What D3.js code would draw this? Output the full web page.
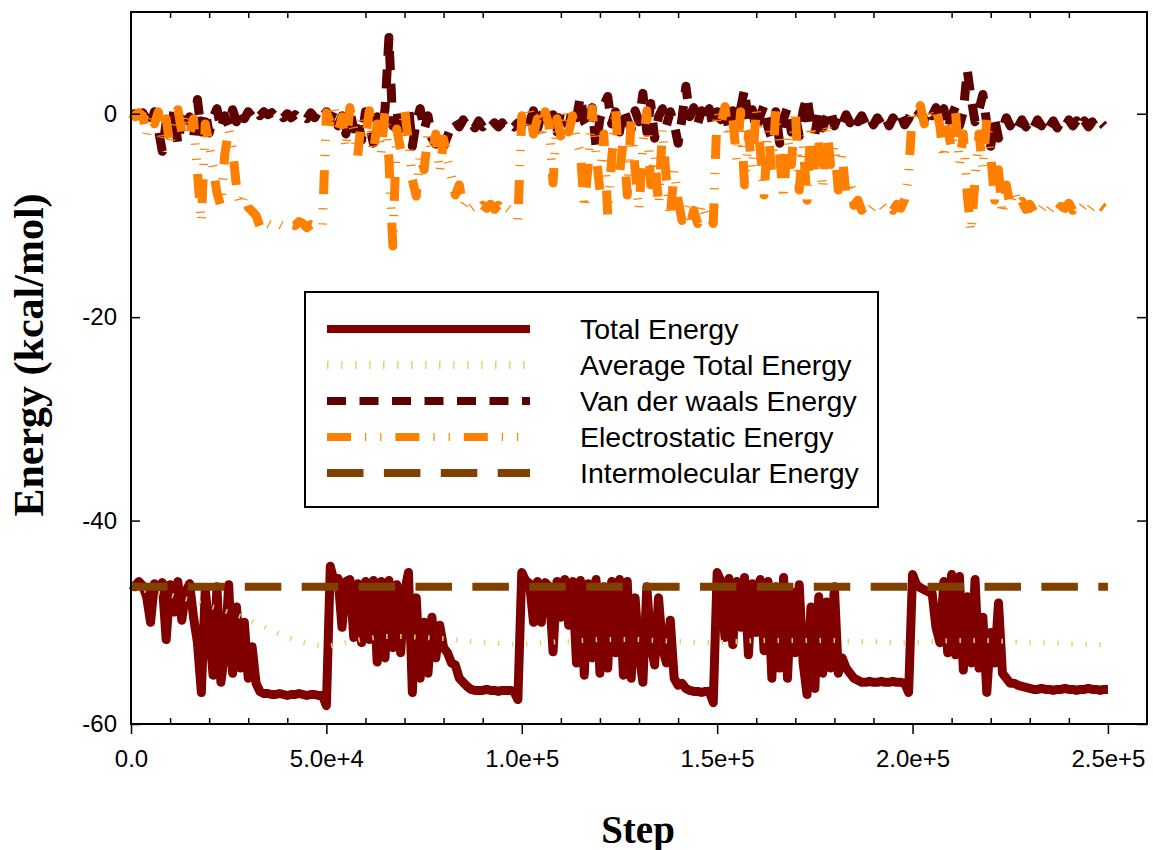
<!DOCTYPE html>
<html>
<head>
<meta charset="utf-8">
<script src="https://cdn.jsdelivr.net/npm/d3@7"></script>
<style>
  body { margin: 0; background: #ffffff; }
  text { font-family: "Liberation Sans", Arial, sans-serif; }
</style>
</head>
<body>
<div id="chart"></div>
<script>
// Sampling interval of the energy traces (steps)
const STEP = 1000;
const AVG_STEP = 5000;

// Total energy, one value per 1000 steps (0 .. 250000)
const totalEnergy = [
  -46.3, -46.5, -46.0, -46.4, -47.5, -50.0, -46.2, -46.8, -46.1, -51.7,
  -46.3, -49.0, -46.0, -49.8, -47.0, -46.2, -49.5, -52.0, -56.9, -46.8,
  -50.5, -55.2, -46.5, -55.9, -53.0, -46.3, -55.0, -48.5, -54.5, -50.0,
  -55.5, -52.4, -56.0, -56.8, -57.0, -57.0, -57.1, -57.1, -57.0, -57.1,
  -57.2, -57.1, -57.1, -57.0, -57.1, -57.2, -57.1, -57.1, -57.2, -57.2,
  -58.2, -44.5, -46.0, -45.7, -50.5, -46.0, -45.8, -51.5, -46.2, -52.0,
  -46.0, -51.7, -45.9, -53.9, -46.0, -53.5, -45.9, -52.5, -46.3, -53.0,
  -47.0, -45.1, -56.9, -47.6, -55.5, -50.0, -55.0, -49.5, -53.5, -50.3,
  -52.5, -53.0, -54.0, -54.2, -55.5, -55.9, -56.3, -56.6, -56.7, -56.7,
  -56.7, -56.6, -56.7, -56.7, -56.8, -56.7, -56.7, -56.7, -56.8, -57.6,
  -45.1, -45.9, -46.2, -50.0, -46.0, -50.0, -46.1, -46.5, -52.9, -46.0,
  -49.5, -45.8, -50.3, -46.0, -54.0, -45.9, -55.2, -46.2, -53.5, -45.8,
  -55.0, -46.5, -54.5, -46.0, -53.0, -45.8, -55.2, -46.0, -55.5, -47.6,
  -53.0, -55.9, -46.5, -52.0, -54.2, -47.6, -52.5, -54.0, -49.8, -55.5,
  -56.2, -56.0, -56.5, -56.7, -56.8, -56.8, -56.9, -56.8, -56.8, -57.9,
  -45.1, -46.0, -51.5, -45.7, -52.2, -46.0, -50.5, -45.6, -53.2, -46.2,
  -51.0, -45.8, -52.8, -46.0, -55.5, -46.5, -54.5, -45.6, -55.5, -47.0,
  -53.0, -46.3, -54.0, -57.1, -48.5, -56.5, -47.5, -55.0, -48.0, -54.5,
  -46.5, -55.0, -53.5, -54.5, -55.0, -55.5, -55.7, -55.9, -55.9, -55.8,
  -55.9, -55.9, -55.8, -55.9, -55.9, -55.8, -55.9, -55.9, -56.0, -56.9,
  -45.3, -46.3, -46.6, -46.8, -47.0, -47.1, -50.5, -52.0, -46.0, -53.0,
  -45.3, -53.2, -45.5, -54.7, -47.5, -54.0, -45.8, -54.5, -49.5, -56.9,
  -51.0, -54.0, -48.1, -55.0, -55.5, -56.0, -56.0, -56.2, -56.3, -56.4,
  -56.5, -56.6, -56.6, -56.5, -56.6, -56.6, -56.7, -56.6, -56.6, -56.5,
  -56.6, -56.6, -56.7, -56.6, -56.6, -56.5, -56.6, -56.6, -56.7, -56.6,
  -56.6
];

// Running average of the total energy, one value per 5000 steps
const avgEnergy = [
  -46.5, -47.0, -47.3, -47.8, -48.4, -49.0, -49.7, -50.6, -51.5, -52.1,
  -52.4, -52.0, -51.6, -51.4, -51.4, -51.5, -51.6, -51.8, -52.0, -52.1,
  -52.2, -52.0, -51.9, -51.8, -51.7, -51.7, -51.7, -51.8, -51.9, -52.0,
  -52.0, -51.9, -51.8, -51.8, -51.8, -51.8, -51.8, -51.9, -51.9, -52.0,
  -52.0, -51.9, -51.8, -51.8, -51.8, -51.9, -52.0, -52.0, -52.1, -52.2,
  -52.2
];

// Van der Waals energy, one value per 1000 steps (0 .. 249000)
const vdwEnergy = [
  -0.1, 0.0, -0.2, 0.1, -0.5, -1.2, 0.2, -1.5, -3.7, -0.8,
  -2.0, 0.3, -3.0, -0.5, -1.5, -0.3, -2.5, 1.4, -1.8, 0.2,
  -1.9, -0.4, 0.5, -1.5, -0.2, -1.2, 0.4, -0.8, 0.3, -0.5,
  0.2, -0.3, 0.3, -0.2, 0.2, -0.1, 0.1, -0.3, 0.1, -0.4,
  0.0, -0.4, -0.1, -0.5, -0.2, -0.5, 0.1, -0.4, 0.3, -0.3,
  0.2, -0.5, 0.4, -1.2, -0.2, -2.0, 0.3, -1.5, -0.4, -2.6,
  0.2, -1.0, -2.9, -0.3, -1.8, 0.4, 7.5, -1.2, 0.5, -2.5,
  -0.6, 0.7, -3.2, -0.8, 0.5, -1.6, -0.2, -2.4, -3.0, -1.8,
  -3.2, -2.2, -1.2, -0.7, -1.3, -0.6, -1.2, -0.8, -1.4, -0.7,
  -1.3, -0.8, -1.3, -0.9, -1.3, -0.9, -1.4, -1.0, -1.3, -0.9,
  -1.2, 0.2, -0.8, 0.3, -1.5, -0.2, 0.4, -1.0, -0.1, -1.8,
  0.3, -0.6, -1.2, 0.5, -0.4, 1.7, -0.8, -1.5, 0.6, -3.2,
  -0.5, 0.8, 1.7, -1.0, 0.2, -1.8, 0.5, -0.6, -1.5, 0.3,
  -0.8, 2.0, -1.8, 1.0, -2.4, -0.3, 0.5, -1.2, 0.2, -1.0,
  -2.9, -0.5, 2.7, -0.3, 0.6, -1.0, 0.3, -0.8, 0.5, -1.4,
  0.2, -0.6, 0.7, -1.5, 0.3, -0.8, 0.5, 2.4, -1.0, 0.4,
  -1.6, -0.2, 0.8, -1.3, -2.5, 0.2, -2.9, -0.5, 0.6, -1.8,
  -0.2, -2.2, 0.3, 1.7, -1.0, -2.0, 0.2, -1.4, -0.4, 0.4,
  -1.2, -0.2, -1.0, -0.1, -0.9, 0.0, -0.8, -0.2, -1.0, -0.3,
  -1.1, -0.4, -1.0, -0.3, -1.2, -0.4, -1.0, -0.2, -1.1, -0.5,
  0.3, -0.3, 0.2, -0.6, 0.4, -0.2, 0.6, -0.9, 0.5, -1.5,
  -0.2, 0.7, -1.2, 0.2, 4.3, 1.5, -0.8, 0.4, 1.9, -1.0,
  -3.2, -0.5, -2.4, -1.5, -0.4, -1.2, -0.5, -1.3, -0.6, -1.3,
  -0.7, -1.4, -0.6, -1.2, -0.5, -1.3, -0.7, -1.4, -0.8, -1.3,
  -0.6, -1.2, -0.7, -1.4, -0.7, -1.3, -0.8, -1.4, -0.8, -1.2
];

// Electrostatic energy, one value per 1000 steps (0 .. 249000)
const elecEnergy = [
  0.0, -0.3, 0.1, -0.2, -2.2, 0.0, -1.0, 0.2, -3.0, -0.5,
  -3.2, -0.2, 0.4, -1.8, 0.1, -2.0, -0.5, -5.8, -10.7, -1.0,
  -3.0, -5.2, -7.8, -9.1, -4.0, -1.5, -3.5, -7.2, -9.1, -8.0,
  -9.2, -9.6, -10.0, -11.1, -10.5, -10.8, -11.0, -10.6, -10.9, -11.1,
  -10.7, -10.9, -11.0, -10.6, -10.8, -11.2, -10.9, -11.0, -11.3, -11.0,
  0.1, -0.8, 0.5, -2.0, -0.3, -3.5, 0.6, -1.5, -4.2, -0.5,
  -2.5, 0.3, -3.8, -1.0, -4.0, 0.2, -4.5, -13.0, -1.5, -3.5,
  0.5, -2.8, -6.5, -8.1, -4.0, -5.5, -2.0, -3.8, -2.0, -5.8,
  -2.5, -4.5, -6.2, -8.0, -7.0, -9.1, -8.5, -9.3, -9.0, -9.4,
  -9.0, -9.3, -8.9, -9.4, -9.0, -9.6, -9.2, -9.5, -10.0, -10.4,
  -0.2, -1.5, 0.3, -2.0, -0.5, -2.6, 0.2, -1.2, -6.8, -0.5,
  -2.2, 0.4, -1.8, -0.2, -2.5, -3.8, -9.4, -5.0, 0.5, -4.0,
  -7.5, -2.0, -10.0, -4.5, 0.6, -6.0, -2.5, -8.0, -0.5, -5.5,
  -9.5, -3.0, 0.3, -7.0, -4.0, -9.0, -1.5, -6.5, -10.2, -5.5,
  -8.5, -10.5, -9.0, -11.1, -9.5, -10.8, -8.8, -10.0, -9.8, -10.8,
  0.4, -1.0, 0.7, -2.5, -0.5, -4.5, 0.2, -7.0, -2.0, -5.5,
  0.5, -3.5, -8.0, -1.5, -6.0, 0.3, -4.2, -8.5, -2.0, -5.0,
  0.4, -7.5, -3.0, -8.5, -1.0, -6.0, -2.5, -7.5, -0.8, -5.0,
  -3.0, -7.5, -4.0, -8.1, -6.5, -9.0, -8.5, -9.5, -9.0, -9.6,
  -9.1, -9.3, -8.9, -9.4, -9.0, -9.5, -8.9, -9.3, -8.4, -6.0,
  0.5, -0.5, 0.8, -1.0, 0.3, -0.8, 0.6, -1.2, -4.5, -1.5,
  -3.5, 0.2, -5.0, -2.0, -8.0, -11.7, -6.5, -2.0, -5.5, -0.5,
  -4.0, -8.5, -5.5, -10.0, -7.0, -9.1, -7.5, -9.0, -8.6, -9.4,
  -8.9, -9.6, -9.0, -9.4, -8.8, -9.5, -9.0, -9.6, -9.1, -9.3,
  -8.8, -9.5, -9.0, -9.4, -8.9, -9.6, -9.1, -9.4, -9.0, -9.3
];

// Intermolecular energy (constant)
const interSteps = [0, 250000];
const interEnergy = [-46.5, -46.5];

// Axes
const xMajorTicks = [0, 50000, 100000, 150000, 200000, 250000];
const xTickLabels = ["0.0", "5.0e+4", "1.0e+5", "1.5e+5", "2.0e+5", "2.5e+5"];
const xMinorTicks = [10000, 20000, 30000, 40000, 60000, 70000, 80000, 90000,
  110000, 120000, 130000, 140000, 160000, 170000, 180000, 190000,
  210000, 220000, 230000, 240000];
const yTicks = [0, -20, -40, -60];
const yTickLabels = ["0", "-20", "-40", "-60"];

const legendLabels = ["Total Energy", "Average Total Energy", "Van der waals Energy",
  "Electrostatic Energy", "Intermolecular Energy"];

const width = 1153, height = 850;
const plot = { left: 131, right: 1147, top: 12, bottom: 724 };

const svg = d3.select("#chart").append("svg")
    .attr("width", width)
    .attr("height", height);

const x = d3.scaleLinear().domain([0, 260000]).range([plot.left, plot.right]);
const y = d3.scaleLinear().domain([-60, 10]).range([plot.bottom, plot.top]);

// Series styles
const styles = {
    total: { color: "#800000", width: 9, dash: null },
    avg:   { color: "#d8d870", width: 5, dash: "1.5,12.5" },
    vdw:   { color: "#5c0000", width: 9, dash: "19,13.5" },
    elec:  { color: "#ff8000", width: 9, dash: "24,14,1.2,14,1.2,14" },
    inter: { color: "#804000", width: 8, dash: "36.5,20.4" }
};

function drawSeries(values, xOf, st) {
    const line = d3.line()
        .x((d, i) => x(xOf(i)))
        .y(d => y(d));
    svg.append("path")
        .datum(values)
        .attr("d", line)
        .attr("fill", "none")
        .attr("stroke", st.color)
        .attr("stroke-width", st.width)
        .attr("stroke-linejoin", "round")
        .attr("stroke-dasharray", st.dash);
}

drawSeries(totalEnergy, i => i * STEP, styles.total);
drawSeries(avgEnergy, i => i * AVG_STEP, styles.avg);
drawSeries(vdwEnergy, i => i * STEP, styles.vdw);
drawSeries(elecEnergy, i => i * STEP, styles.elec);
drawSeries(interEnergy, i => interSteps[i], styles.inter);

// Frame
svg.append("rect")
    .attr("x", plot.left).attr("y", plot.top)
    .attr("width", plot.right - plot.left).attr("height", plot.bottom - plot.top)
    .attr("fill", "none").attr("stroke", "#000").attr("stroke-width", 2);

function styleAxis(g) {
    g.select(".domain").remove();
    g.selectAll("line").attr("stroke", "#000").attr("stroke-width", 1.5);
    g.selectAll("text").attr("fill", "#000")
        .style("font-family", '"Liberation Sans", Arial, sans-serif')
        .style("font-size", "24px");
}

// Left axis with inward ticks
svg.append("g")
    .attr("transform", `translate(${plot.left},0)`)
    .call(d3.axisLeft(y).tickValues(yTicks).tickSize(-9).tickPadding(14)
        .tickFormat((d, i) => yTickLabels[i]))
    .call(styleAxis);

// Right axis ticks
svg.append("g")
    .attr("transform", `translate(${plot.right},0)`)
    .call(d3.axisRight(y).tickValues(yTicks).tickSize(-10).tickFormat(""))
    .call(styleAxis);

// Bottom major ticks (outward) with labels
svg.append("g")
    .attr("transform", `translate(0,${plot.bottom})`)
    .call(d3.axisBottom(x).tickValues(xMajorTicks).tickSize(10).tickPadding(16)
        .tickFormat((d, i) => xTickLabels[i]))
    .call(styleAxis);

// Bottom minor ticks (inward)
svg.append("g")
    .attr("transform", `translate(0,${plot.bottom})`)
    .call(d3.axisBottom(x).tickValues(xMinorTicks).tickSize(-6).tickFormat(""))
    .call(styleAxis);

// Top minor ticks (inward)
svg.append("g")
    .attr("transform", `translate(0,${plot.top})`)
    .call(d3.axisTop(x).tickValues(xMinorTicks).tickSize(-6).tickFormat(""))
    .call(styleAxis);

// Axis titles
svg.append("text")
    .attr("transform", "translate(29,355) rotate(-90)")
    .attr("text-anchor", "middle")
    .attr("dominant-baseline", "central")
    .style("font-family", '"Liberation Serif", "Times New Roman", serif')
    .style("font-weight", "bold")
    .style("font-size", "42px")
    .text("Energy (kcal/mol)");

svg.append("text")
    .attr("x", 638).attr("y", 843)
    .attr("text-anchor", "middle")
    .style("font-family", '"Liberation Serif", "Times New Roman", serif')
    .style("font-weight", "bold")
    .style("font-size", "39px")
    .text("Step");

// Legend
const legend = svg.append("g");
legend.append("rect")
    .attr("x", 305).attr("y", 292)
    .attr("width", 573).attr("height", 215)
    .attr("fill", "#fff").attr("stroke", "#000").attr("stroke-width", 2);

const legendStyles = [styles.total, styles.avg, styles.vdw, styles.elec, styles.inter];
legendLabels.forEach((label, i) => {
    const ly = 329 + i * 36;
    const st = legendStyles[i];
    legend.append("line")
        .attr("x1", 327).attr("x2", 530)
        .attr("y1", ly).attr("y2", ly)
        .attr("stroke", st.color)
        .attr("stroke-width", 8)
        .attr("stroke-dasharray", st.dash);
    legend.append("text")
        .attr("x", 580).attr("y", ly + 10)
        .style("font-size", "28.5px")
        .attr("fill", "#000")
        .text(label);
});
</script>
</body>
</html>
